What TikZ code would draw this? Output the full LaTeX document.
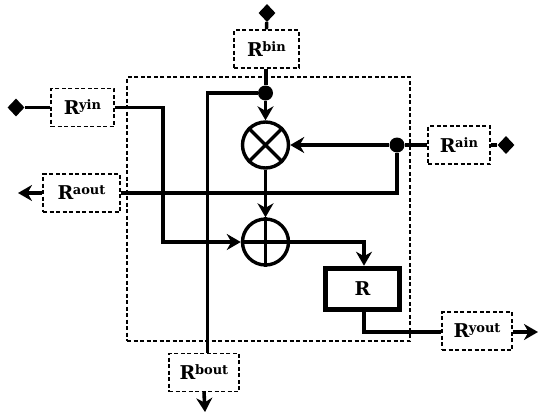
\documentclass[tikz,border=0pt]{standalone}
\usepackage{fontspec}
\setmainfont{DejaVu Serif}
\usetikzlibrary{arrows.meta,shapes.geometric}
\newcommand{\regl}[1]{{\fontsize{19}{19}\selectfont\bfseries R}\kern-0.5pt\raisebox{5pt}{\fontsize{13}{13}\selectfont\bfseries #1}}
\tikzset{
  x=1pt,y=-1pt,
  reg/.style={draw,dash pattern=on 4pt off 2.5pt,line width=1.4pt,inner sep=0pt,minimum height=38pt,text=black},
  wire/.style={line width=3.4pt,line join=miter},
  arr/.style={wire,-{Stealth[length=14pt,width=16pt,inset=4.5pt]}},
  dotn/.style={circle,fill=black,inner sep=0pt,minimum size=15pt},
  term/.style={diamond,fill=black,inner sep=0pt,minimum width=17pt,minimum height=18pt},
  opn/.style={circle,draw,line width=3.4pt,inner sep=0pt,minimum size=46pt},
}
\begin{document}
\begin{tikzpicture}
\useasboundingbox (0,0) rectangle (539,416);
\node[draw,dash pattern=on 4pt off 2.5pt,line width=1.4pt,minimum width=283pt,minimum height=264pt,inner sep=0pt] (frame) at (268.5,209) {};
\node[reg,minimum width=65pt] (rbin) at (266.5,49) {\regl{bin}};
\node[reg,minimum width=63pt] (ryin) at (82.5,107.5) {\regl{yin}};
\node[reg,minimum width=77pt] (raout) at (81.5,193) {\regl{aout}};
\node[reg,minimum width=62pt] (rain) at (459,145) {\regl{ain}};
\node[reg,minimum width=70pt] (ryout) at (477,331) {\regl{yout}};
\node[reg,minimum width=70pt] (rbout) at (204,372.5) {\regl{bout}};
\node[draw,line width=5.5pt,minimum width=74pt,minimum height=41pt,inner sep=0pt] (r) at (362.5,289) {\fontsize{19}{19}\selectfont\bfseries R};
\node[opn] (mul) at (265.5,145) {};
\node[opn] (add) at (265.5,242) {};
\draw[wire] (mul.north west) -- (mul.south east) (mul.north east) -- (mul.south west);
\draw[wire] (add.north) -- (add.south) (add.west) -- (add.east);
\node[dotn] (db) at (265.5,93) {};
\node[dotn] (da) at (397,145) {};
\node[term] (tb) at (267,13) {};
\node[term] (ty) at (16,107.5) {};
\node[term] (ta) at (506,145) {};
\coordinate (oa) at (18,193);
\coordinate (ob) at (205,412);
\coordinate (oy) at (538,332);
\coordinate (c1) at (163,107.5);
\coordinate (c2) at (364,242);
\draw[wire] (rbin.north) -- (tb);
\draw[wire,line width=4pt] (rbin.south -| db) -- (db);
\draw[arr] (db) -- (mul);
\draw[wire,line width=3.6pt] (db) -| ([xshift=3.5pt]rbout.north);
\draw[wire] (rain.west) -- (da);
\draw[arr] (da) -- (mul);
\draw[wire] (da) |- (raout.east);
\draw[wire] (rain.east) -- (ta);
\draw[wire] (ryin.west) -- (ty);
\draw[arr] (ryin.east) -- (c1) |- (add);
\draw[arr] (mul) -- (add);
\draw[arr] (add) -- (c2) -- (c2 |- r.north);
\draw[wire,line width=3.6pt] ([xshift=1.5pt]r.south) |- (ryout.west |- oy);
\draw[arr,line width=4pt] (ryout.east |- oy) -- (oy);
\draw[arr] (raout.west) -- (oa);
\draw[arr,line width=3.6pt] (rbout.south) -- (ob);
\end{tikzpicture}
\end{document}
